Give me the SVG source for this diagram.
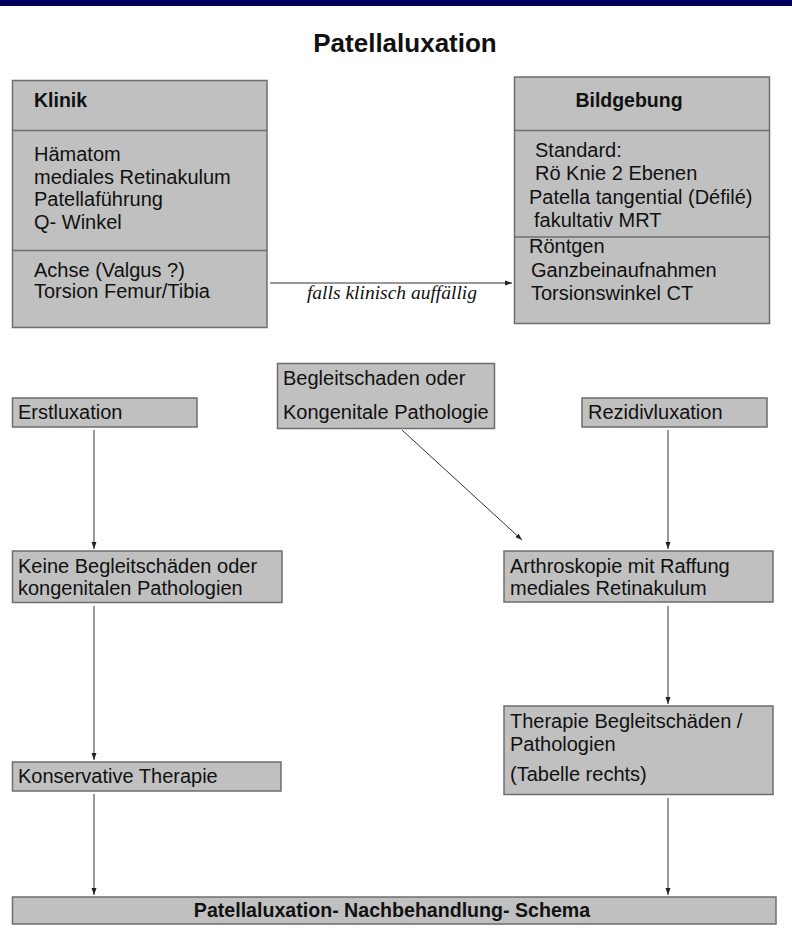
<svg xmlns="http://www.w3.org/2000/svg" width="792" height="951" viewBox="0 0 792 951">
<defs>
<style>
.box{fill:#c0c0c0;stroke:#6e6e6e;stroke-width:1.5}
.div{stroke:#6e6e6e;stroke-width:1.5}
.t{font-family:"Liberation Sans",Arial,sans-serif;font-size:20px;fill:#111}
.b{font-family:"Liberation Sans",Arial,sans-serif;font-size:19.5px;font-weight:bold;fill:#111}
.c{fill:none;stroke:#333;stroke-width:1}
</style>
<marker id="ah" markerWidth="8" markerHeight="8" refX="7" refY="4" orient="auto" markerUnits="userSpaceOnUse">
<path d="M0,1.5 L7,4 L0,6.5 Z" fill="#222"/>
</marker>
</defs>
<rect x="0" y="0" width="792" height="951" fill="#fff"/>
<rect x="0" y="0" width="792" height="6" fill="#00005c"/>
<text x="405" y="52" text-anchor="middle" style="font-family:'Liberation Sans',Arial,sans-serif;font-size:26px;font-weight:bold;fill:#111">Patellaluxation</text>

<g id="klinik">
<rect class="box" x="12.5" y="80.5" width="254.5" height="247"/>
<line class="div" x1="12.5" y1="130.5" x2="267" y2="130.5"/>
<line class="div" x1="12.5" y1="250.5" x2="267" y2="250.5"/>
<text class="b" x="34" y="107">Klinik</text>
<text class="t" x="34" y="161">Hämatom</text>
<text class="t" x="34" y="184">mediales Retinakulum</text>
<text class="t" x="34" y="206">Patellaführung</text>
<text class="t" x="34" y="229">Q- Winkel</text>
<text class="t" x="34" y="277">Achse (Valgus ?)</text>
<text class="t" x="34" y="298">Torsion Femur/Tibia</text>
</g>

<g id="bildgebung">
<rect class="box" x="514.5" y="77" width="255" height="246.5"/>
<line class="div" x1="514.5" y1="130.5" x2="769.5" y2="130.5"/>
<line class="div" x1="514.5" y1="237" x2="769.5" y2="237"/>
<text class="b" x="629" y="107" text-anchor="middle">Bildgebung</text>
<text class="t" x="535" y="157">Standard:</text>
<text class="t" x="535" y="180">Rö Knie 2 Ebenen</text>
<text class="t" x="529" y="204">Patella tangential (Défilé)</text>
<text class="t" x="534" y="227">fakultativ MRT</text>
<text class="t" x="529" y="253">Röntgen</text>
<text class="t" x="531" y="277">Ganzbeinaufnahmen</text>
<text class="t" x="531" y="300">Torsionswinkel CT</text>
</g>

<g id="begleitschaden">
<rect class="box" x="277.5" y="363.5" width="217" height="65"/>
<text class="t" x="283" y="385">Begleitschaden oder</text>
<text class="t" x="283" y="419">Kongenitale Pathologie</text>
</g>

<g id="erstluxation">
<rect class="box" x="12.5" y="398" width="184.5" height="29"/>
<text class="t" x="18" y="419">Erstluxation</text>
</g>

<g id="rezidivluxation">
<rect class="box" x="582" y="398" width="185" height="29"/>
<text class="t" x="588" y="419">Rezidivluxation</text>
</g>

<g id="keine">
<rect class="box" x="12.5" y="551" width="269.5" height="51.5"/>
<text class="t" x="18" y="573">Keine Begleitschäden oder</text>
<text class="t" x="18" y="595">kongenitalen Pathologien</text>
</g>

<g id="arthroskopie">
<rect class="box" x="504" y="551" width="269" height="51"/>
<text class="t" x="510" y="573">Arthroskopie mit Raffung</text>
<text class="t" x="510" y="595">mediales Retinakulum</text>
</g>

<g id="konservativ">
<rect class="box" x="12.5" y="762" width="268.5" height="29"/>
<text class="t" x="18" y="783">Konservative Therapie</text>
</g>

<g id="therapie">
<rect class="box" x="504" y="706" width="269" height="88.5"/>
<text class="t" x="510" y="728">Therapie Begleitschäden /</text>
<text class="t" x="510" y="751">Pathologien</text>
<text class="t" x="510" y="781">(Tabelle rechts)</text>
</g>

<g id="schema">
<rect class="box" x="12.5" y="897" width="763.5" height="27"/>
<text class="b" x="392" y="917" text-anchor="middle" style="font-size:19.6px">Patellaluxation- Nachbehandlung- Schema</text>
</g>

<g id="connectors">
<line class="c" x1="270" y1="283" x2="512" y2="283" marker-end="url(#ah)"/>
<text x="392" y="299" text-anchor="middle" style="font-family:'Liberation Serif','Times New Roman',serif;font-size:19.5px;font-style:italic;fill:#111">falls klinisch auffällig</text>
<line class="c" x1="94" y1="430" x2="94" y2="549" marker-end="url(#ah)"/>
<line class="c" x1="94" y1="606" x2="94" y2="760" marker-end="url(#ah)"/>
<line class="c" x1="94" y1="794" x2="94" y2="895" marker-end="url(#ah)"/>
<line class="c" x1="668" y1="430" x2="668" y2="549" marker-end="url(#ah)"/>
<line class="c" x1="668" y1="606" x2="668" y2="704" marker-end="url(#ah)"/>
<line class="c" x1="668" y1="798" x2="668" y2="895" marker-end="url(#ah)"/>
<line class="c" x1="402" y1="430" x2="522" y2="540" marker-end="url(#ah)"/>
</g>
</svg>
